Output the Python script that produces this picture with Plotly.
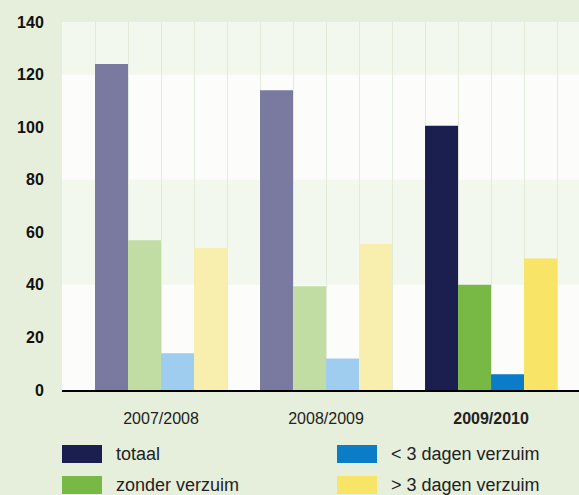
import plotly.graph_objects as go
import numpy as np

years = ["2007/2008", "2008/2009", "2009/2010"]
year_labels = ["2007/2008", "2008/2009", "<b>2009/2010</b>"]
series = ["totaal", "zonder verzuim", "< 3 dagen verzuim", "> 3 dagen verzuim"]
totaal = [124, 114, 100.5]
zonder = [57, 39.5, 40]
kort = [14, 12, 6]
lang = [54, 55.5, 50]
yticks = [0, 20, 40, 60, 80, 100, 120, 140]

values = [totaal, zonder, kort, lang]
solid = ["#1b1f50", "#78b844", "#0a7cc8", "#f8e466"]
faded = ["#7a7aa0", "#c2dda4", "#9fcdf0", "#f8efae"]

W, H = 579, 495
ML, MR, MT, MB = 62, 0, 22, 105
PW, PH = W - ML - MR, H - MT - MB

def px(x):
    return (x - ML) / PW

def py(y):
    return (H - MB - y) / PH

fig = go.Figure()
xs = list(range(len(years)))
for name, vals, sc, fc in zip(series, values, solid, faded):
    cols = [fc, fc, sc]
    fig.add_trace(go.Bar(
        x=xs, y=vals, name=name,
        marker=dict(color=cols, line=dict(width=0)),
        showlegend=False, hoverinfo="y+name",
    ))

# background bands
for y0, y1 in [(120, 140), (40, 80)]:
    fig.add_shape(type="rect", xref="paper", yref="y", x0=0, x1=1, y0=y0, y1=y1,
                  fillcolor="#f2f8ee", line=dict(width=0), layer="below")

# custom legend
leg = [(0, 0, 0), (1, 0, 1), (2, 1, 0), (3, 1, 1)]
for i, col, row in leg:
    lx = 62 + col * 275
    ty = 445 + row * 31
    fig.add_shape(type="rect", xref="paper", yref="paper",
                  x0=px(lx), x1=px(lx + 40), y0=py(ty + 18), y1=py(ty),
                  fillcolor=solid[i], line=dict(width=0))
    fig.add_annotation(xref="paper", yref="paper", x=px(lx + 52), y=py(ty + 9),
                       text=series[i], showarrow=False, xanchor="left", yanchor="middle",
                       font=dict(size=18, color="#222222", family="Liberation Sans, Arial"))

grid_x = np.arange(-0.6, 2.6, 0.2)
fig.update_layout(
    width=W, height=H,
    margin=dict(l=ML, r=MR, t=MT, b=MB, pad=0),
    paper_bgcolor="#e6efdc",
    plot_bgcolor="#fcfcfa",
    barmode="group", bargap=0.2, bargroupgap=0,
    font=dict(family="Liberation Sans, Arial", color="#222222"),
    xaxis=dict(range=[-0.6, 2.533], tickmode="array", tickvals=xs, ticktext=year_labels,
               showgrid=False, zeroline=False, showline=True, linecolor="#000000", linewidth=2,
               ticks="outside", ticklen=13, tickcolor="rgba(0,0,0,0)",
               tickfont=dict(size=16, color="#222222"),
               minor=dict(tickmode="array", tickvals=list(grid_x), showgrid=True,
                          gridcolor="#e3ecd8", gridwidth=1, ticks="")),
    yaxis=dict(range=[0, 140], tickvals=yticks, showgrid=False, zeroline=False,
               ticks="outside", ticklen=14, tickcolor="rgba(0,0,0,0)",
               tickfont=dict(size=16, color="#111111", family="Liberation Sans, Arial",
                             weight="bold")),
)

fig.write_html("out.html", config={"displayModeBar": False},
               post_script="document.body.style.margin='0';document.body.style.padding='0';")
